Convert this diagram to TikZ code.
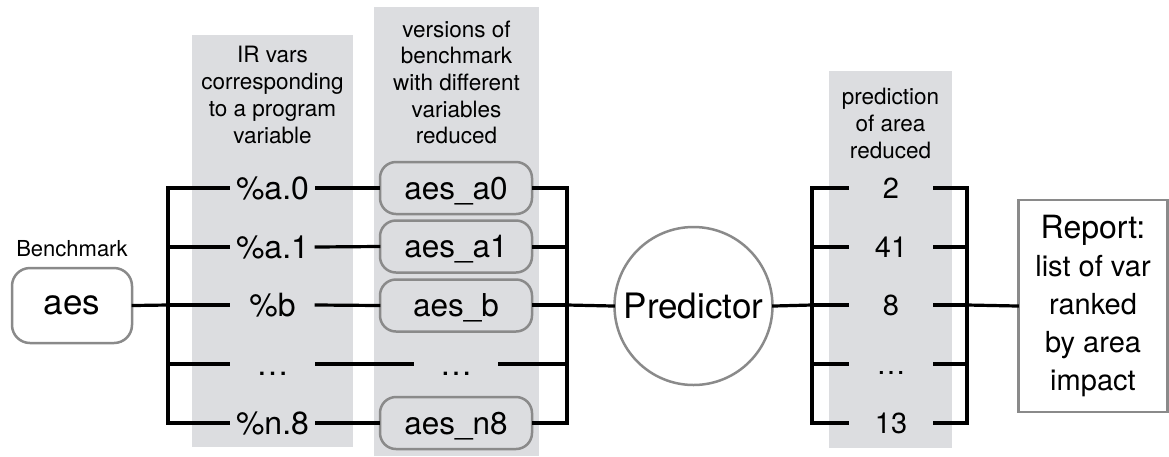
\documentclass[tikz,border=0pt]{standalone}
\usepackage{fontspec}
\setmainfont{TeX Gyre Heros}
\definecolor{band}{HTML}{DCDDE0}
\definecolor{bord}{HTML}{8A8A8A}
\begin{document}
\begin{tikzpicture}[x=1pt,y=-1pt,
  wire/.style={line width=3.2pt, line cap=rect},
  rbox/.style={draw=bord, line width=2.5pt, rounded corners=16pt, minimum width=152pt, minimum height=52pt, inner sep=0pt, text height=22pt, text depth=0pt, font=\fontsize{31.5}{31.5}\selectfont},
  irv/.style={minimum width=87pt, inner sep=0pt, text height=22pt, text depth=0pt, font=\fontsize{32}{32}\selectfont},
  num/.style={minimum width=86pt, inner sep=0pt, text height=21pt, text depth=0pt, font=\fontsize{29}{29}\selectfont},
  hdr/.style={align=center, inner sep=0pt, font=\fontsize{22.5}{26.7}\selectfont}]
\useasboundingbox (0,0) rectangle (1169,456);
% bands
\fill[band] (192,35) rectangle (353,447);
\fill[band] (374,7) rectangle (539,456);
\fill[band] (829,71) rectangle (952,448);
% headers
\node[hdr] (h1) at (272.5,95) {IR vars\\corresponding\\to a program\\variable};
\node[hdr] (h2) at (456.5,82.5) {versions of\\benchmark\\with different\\variables\\reduced};
\node[hdr] (h3) at (890.5,123.5) {prediction\\of area\\reduced};
% benchmark
\node[inner sep=0pt, text height=15pt, text depth=0pt, font=\fontsize{22}{22}\selectfont] (blab) at (72,249) {Benchmark};
\node[rbox, minimum width=120pt, minimum height=75pt, rounded corners=18pt, font=\fontsize{35}{35}\selectfont, text height=17pt] (aes) at (72,305.5) {aes};
% IR vars
\node[irv] (v1) at (272.5,188) {\%a.0};
\node[irv] (v2) at (272.5,247) {\%a.1};
\node[irv] (v3) at (272.5,305) {\%b};
\node[irv] (v4) at (272.5,364) {…};
\node[irv] (v5) at (272.5,423) {\%n.8};
% versions
\node[rbox] (b1) at (456,188) {aes\_a0};
\node[rbox] (b2) at (456,246.5) {aes\_a1};
\node[rbox] (b3) at (456,305.5) {aes\_b};
\node[irv, minimum width=86pt] (b4) at (456,364) {…};
\node[rbox] (b5) at (456,423) {aes\_n8};
% predictor
\node[draw=bord, line width=2.5pt, circle, minimum size=158pt, inner sep=0pt, font=\fontsize{35}{35}\selectfont] (pred) at (693.5,306) {Predictor};
% numbers
\node[num] (n1) at (891,188) {2};
\node[num] (n2) at (891,247) {41};
\node[num] (n3) at (891,305) {8};
\node[num] (n4) at (891,364) {…};
\node[num] (n5) at (891,423) {13};
% report
\node[draw=bord, line width=2.5pt, minimum width=149pt, minimum height=212pt, inner sep=0pt, align=center, font=\fontsize{29}{38}\selectfont] (rep) at (1093,306) {{\fontsize{32}{38}\selectfont Report:}\\list of var\\ranked\\by area\\impact};
% coordinates for brackets
\coordinate (L1) at (168,188); \coordinate (L5) at (168,423); \coordinate (L3) at (168,305);
\coordinate (R1) at (567,188); \coordinate (R5) at (567,423); \coordinate (R3) at (567,305);
\coordinate (P1) at (812,188); \coordinate (P5) at (812,423); \coordinate (P3) at (812,305);
\coordinate (Q1) at (967,188); \coordinate (Q5) at (967,423); \coordinate (Q3) at (967,305);
% wires left
\draw[wire] (L1) -- (L5);
\draw[wire] (aes.east) -- (L3);
\foreach \i in {1,...,5} {\draw[wire] (v\i.west) -- (v\i.west -| L1);}
\draw[wire] (v1.east) -- (b1.west);
\draw[wire] (v2.east) -- (b2.west);
\draw[wire] (v3.east) -- (b3.west);
\draw[wire] (v4.east) -- (b4.west);
\draw[wire] (v5.east) -- (b5.west);
% wires right of versions
\draw[wire] (R1) -- (R5);
\foreach \i in {1,...,5} {\draw[wire] (b\i.east |- v\i.east) -- (v\i.east -| R1);}
\draw[wire] (R3) -- (pred.west);
% numbers
\draw[wire] (pred.east) -- (P3);
\draw[wire] (P1) -- (P5);
\draw[wire] (Q1) -- (Q5);
\foreach \i in {1,...,5} {\draw[wire] (n\i.west) -- (n\i.west -| P1); \draw[wire] (n\i.east) -- (n\i.east -| Q1);}
\draw[wire] (Q3) -- (rep.west);
\end{tikzpicture}
\end{document}
